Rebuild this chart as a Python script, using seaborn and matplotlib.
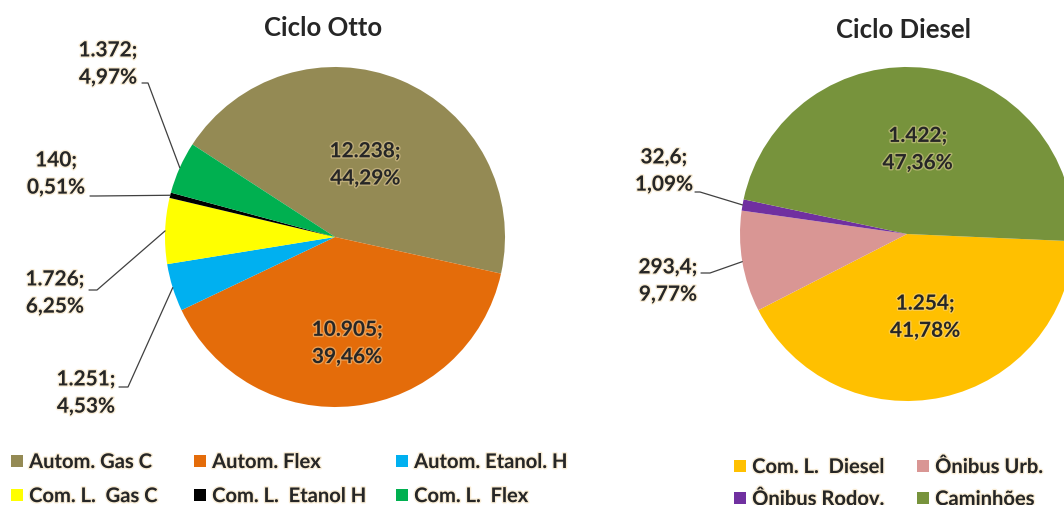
import matplotlib.pyplot as plt
import matplotlib.patheffects as pe
from matplotlib.patches import Patch
import seaborn as sns
import numpy as np

# ---- data ----
otto_labels = ["Autom. Gas C", "Autom. Flex", "Autom. Etanol. H",
               "Com. L.  Gas C", "Com. L.  Etanol H", "Com. L.  Flex"]
otto_values = [12238, 10905, 1251, 1726, 140, 1372]
otto_text = ["12.238;", "10.905;", "1.251;", "1.726;", "140;", "1.372;"]
otto_pct = ["44,29%", "39,46%", "4,53%", "6,25%", "0,51%", "4,97%"]
otto_colors = ["#948A54", "#E46C0A", "#00B0F0", "#FFFF00", "#000000", "#00B050"]

diesel_labels = ["Com. L.  Diesel", "Ônibus Urb.", "Ônibus Rodov.", "Caminhões"]
diesel_values = [1254, 293.4, 32.6, 1422]
diesel_text = ["1.254;", "293,4;", "32,6;", "1.422;"]
diesel_pct = ["41,78%", "9,77%", "1,09%", "47,36%"]
diesel_colors = ["#FFC000", "#D99694", "#7030A0", "#77933C"]

W, H = 1064, 506
sns.set_theme(style="white")
plt.rcParams["font.family"] = ["Lato", "DejaVu Sans"]
glow = [pe.withStroke(linewidth=2, foreground="#f3d9a8", alpha=0.45)]


def draw_pie(cx, cy, r, values, colors, texts, pcts, start, inside, outside):
    """inside: {idx: radius}; outside: {idx: (text_x, text_y, knee_x, knee_y, end_x)} in pixels"""
    ax = plt.gcf().add_axes([(cx - r) / W, (H - cy - r) / H, 2 * r / W, 2 * r / H])
    wedges, _ = ax.pie(values, colors=colors, startangle=start, counterclock=False,
                       radius=1, wedgeprops=dict(linewidth=0))
    ax.set_xlim(-1, 1)
    ax.set_ylim(-1, 1)
    ax.set_aspect("equal")
    ax.axis("off")
    for i, w in enumerate(wedges):
        mid = np.deg2rad((w.theta1 + w.theta2) / 2)
        lab = f"{texts[i]}\n{pcts[i]}"
        if i in inside:
            d = inside[i]
            ax.text(d * np.cos(mid), d * np.sin(mid), lab, ha="center", va="center",
                    fontsize=15, fontweight="bold", linespacing=1.45, path_effects=glow)
        elif i in outside:
            tx, ty, kx, ky, ex = outside[i]
            ax.text((tx - cx) / r, (cy - ty) / r, lab, ha="center", va="center",
                    fontsize=15, fontweight="bold", linespacing=1.45, path_effects=glow)
            xs = [(ex - cx) / r, (kx - cx) / r, np.cos(mid)]
            ys = [(cy - ky) / r, (cy - ky) / r, np.sin(mid)]
            ax.plot(xs, ys, color="#404040", lw=0.9, clip_on=False)
    return ax


fig = plt.figure(figsize=(W / 100, H / 100), dpi=100)

draw_pie(335, 238, 170, otto_values, otto_colors, otto_text, otto_pct, 147,
         inside={0: 0.46, 1: 0.63},
         outside={5: (108, 65, 148, 84, 142),
                  4: (56, 175, 96, 197, 90),
                  3: (55, 294, 97, 291, 89),
                  2: (86, 394, 128, 388, 119)})

draw_pie(907, 235, 167, diesel_values, diesel_colors, diesel_text, diesel_pct, -2.5,
         inside={3: 0.51, 0: 0.51},
         outside={2: (664, 172, 700, 193, 695),
                  1: (668, 282, 710, 274, 701)})

fig.text(323 / W, 1 - 28 / H, "Ciclo Otto", ha="center", va="center",
         fontsize=18.5, fontweight="bold")
fig.text(903 / W, 1 - 30 / H, "Ciclo Diesel", ha="center", va="center",
         fontsize=18.5, fontweight="bold")


def column_legend(labels, colors, x, y, spacing=0.7):
    handles = [Patch(facecolor=c, edgecolor="none") for c in colors]
    leg = fig.legend(handles, labels, loc="upper left", bbox_to_anchor=(x / W, 1 - y / H),
                     frameon=False, borderpad=0, borderaxespad=0, handlelength=0.6,
                     handleheight=0.6, handletextpad=0.3, labelspacing=spacing,
                     prop=dict(size=14.5, weight="bold"))
    for t in leg.get_texts():
        t.set_path_effects(glow)


column_legend([otto_labels[0], otto_labels[3]], [otto_colors[0], otto_colors[3]], 11, 453)
column_legend([otto_labels[1], otto_labels[4]], [otto_colors[1], otto_colors[4]], 194, 453)
column_legend([otto_labels[2], otto_labels[5]], [otto_colors[2], otto_colors[5]], 396, 453)
column_legend([diesel_labels[0], diesel_labels[2]], [diesel_colors[0], diesel_colors[2]], 734, 458, 0.6)
column_legend([diesel_labels[1], diesel_labels[3]], [diesel_colors[1], diesel_colors[3]], 917, 458, 0.6)

fig.savefig("out.png", dpi=100)
